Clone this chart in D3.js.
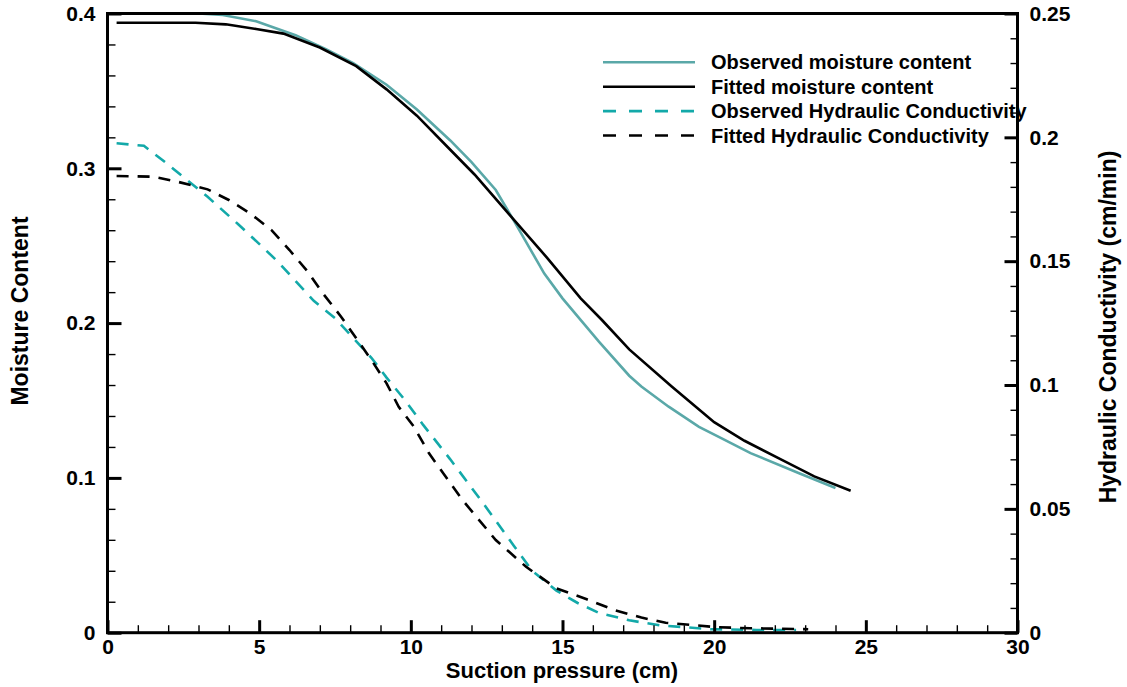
<!DOCTYPE html>
<html>
<head>
<meta charset="utf-8">
<script src="https://cdn.jsdelivr.net/npm/d3@7"></script>
<style>
    body { margin: 0; background: #fff; }
    svg text { font-family: "Liberation Sans", Arial, sans-serif; font-weight: bold; fill: #000; }
</style>
</head>
<body>
<svg id="chart" width="1127" height="687"></svg>
<script>
// Observed / fitted moisture content (left axis)
const obsMoistX = [0.3, 1, 2, 3, 3.8, 4.9, 6.2, 7.2, 8.1, 9.2, 10.2, 11.3, 12.0, 12.8, 13.4, 14.4, 15.0, 16.2, 17.2, 17.6, 18.5, 19.5, 20.2, 21.2, 22.8, 24.0];
const obsMoistY = [0.400, 0.400, 0.400, 0.400, 0.399, 0.395, 0.386, 0.377, 0.368, 0.354, 0.338, 0.318, 0.304, 0.286, 0.266, 0.232, 0.216, 0.188, 0.166, 0.159, 0.146, 0.133, 0.126, 0.116, 0.103, 0.0935];
const fitMoistX = [0.3, 1, 2, 2.9, 3.9, 4.9, 5.8, 7.0, 8.2, 9.2, 10.2, 11.3, 12.1, 13.3, 14.5, 15.6, 16.3, 17.2, 18.6, 20.0, 21.0, 22.2, 23.3, 24.5];
const fitMoistY = [0.394, 0.394, 0.394, 0.394, 0.393, 0.390, 0.387, 0.378, 0.366, 0.351, 0.334, 0.312, 0.296, 0.269, 0.242, 0.216, 0.202, 0.183, 0.159, 0.136, 0.124, 0.112, 0.101, 0.0917];

// Observed / fitted hydraulic conductivity (right axis)
const obsKX = [0.3, 1.2, 1.9, 2.6, 3.3, 4.3, 5.0, 5.6, 6.2, 6.8, 7.5, 8.1, 8.7, 9.2, 9.8, 10.4, 11.3, 12.4, 13.4, 14.0, 14.8, 15.5, 16.2, 17.2, 18.2, 19.9, 21.4, 22.7];
const obsKY = [0.1976, 0.1966, 0.190, 0.183, 0.176, 0.165, 0.157, 0.150, 0.142, 0.134, 0.127, 0.119, 0.111, 0.103, 0.094, 0.084, 0.070, 0.052, 0.035, 0.025, 0.017, 0.012, 0.008, 0.005, 0.003, 0.0014, 0.0011, 0.0011];
const fitKX = [0.3, 1.5, 2.3, 3.3, 4.0, 4.7, 5.4, 6.0, 6.6, 7.1, 7.7, 8.2, 8.7, 9.2, 9.6, 10.1, 10.6, 11.7, 12.8, 13.8, 14.8, 15.8, 16.7, 17.6, 18.4, 19.3, 20.1, 21.2, 23.1];
const fitKY = [0.1844, 0.1841, 0.1821, 0.179, 0.1747, 0.1693, 0.1626, 0.1545, 0.1458, 0.137, 0.1276, 0.1189, 0.1101, 0.1007, 0.0912, 0.0832, 0.0724, 0.0536, 0.0374, 0.0266, 0.0179, 0.0135, 0.0092, 0.0061, 0.004, 0.0031, 0.0022, 0.0018, 0.0014];

const xTicks = [0, 5, 10, 15, 20, 25, 30];
const leftTicks = [0, 0.1, 0.2, 0.3, 0.4];
const rightTicks = [0, 0.05, 0.1, 0.15, 0.2, 0.25];

const legendLabels = ["Observed moisture content", "Fitted moisture content", "Observed Hydraulic Conductivity", "Fitted Hydraulic Conductivity"];

const svg = d3.select("#chart");
const plotLeft = 107.5, plotRight = 1017.5, plotTop = 13.5, plotBottom = 632.7;

// Scales
const x = d3.scaleLinear().domain([0, 30]).range([plotLeft, plotRight]);
const yL = d3.scaleLinear().domain([0, 0.4]).range([plotBottom, plotTop]);
const yR = d3.scaleLinear().domain([0, 0.25]).range([plotBottom, plotTop]);

const teal = "#5aa8a8";
const tealDash = "#13a9a9";

// Curves
const series = [
    { xs: obsMoistX, ys: obsMoistY, y: yL, color: teal, dash: null },
    { xs: fitMoistX, ys: fitMoistY, y: yL, color: "#000", dash: null },
    { xs: obsKX, ys: obsKY, y: yR, color: tealDash, dash: "12,9" },
    { xs: fitKX, ys: fitKY, y: yR, color: "#000", dash: "12,9" }
];

series.forEach(s => {
    const pts = s.xs.map((v, i) => [v, s.ys[i]]);
    const line = d3.line().x(d => x(d[0])).y(d => s.y(d[1]));
    svg.append("path")
        .datum(pts)
        .attr("d", line)
        .attr("fill", "none")
        .attr("stroke", s.color)
        .attr("stroke-width", 2.6)
        .attr("stroke-dasharray", s.dash);
});

// Axes: ticks point inward
function styleAxis(g) {
    g.select(".domain").remove();
    g.selectAll("text").style("font-size", "21px");
}

// x minor + major
svg.append("g").attr("transform", `translate(0,${plotBottom})`)
    .call(d3.axisBottom(x).tickValues(d3.range(0, 31, 1)).tickSize(-7.5).tickFormat(""))
    .call(styleAxis)
    .selectAll("line").attr("stroke", "#000").attr("stroke-width", 1.4);
svg.append("g").attr("transform", `translate(0,${plotBottom})`)
    .call(d3.axisBottom(x).tickValues(xTicks).tickSize(-12.5).tickFormat(d3.format("d")))
    .call(styleAxis)
    .call(g => g.selectAll("line").attr("stroke", "#000").attr("stroke-width", 3))
    .call(g => g.selectAll("text").attr("y", 6).attr("dy", "0.72em"));

// left minor + major
svg.append("g").attr("transform", `translate(${plotLeft},0)`)
    .call(d3.axisLeft(yL).tickValues(d3.range(0, 0.401, 0.02)).tickSize(-8).tickFormat(""))
    .call(styleAxis)
    .selectAll("line").attr("stroke", "#000").attr("stroke-width", 1.4);
svg.append("g").attr("transform", `translate(${plotLeft},0)`)
    .call(d3.axisLeft(yL).tickValues(leftTicks).tickSize(-14).tickFormat(d => d === 0 ? "0" : d3.format(".1f")(d)))
    .call(styleAxis)
    .call(g => g.selectAll("line").attr("stroke", "#000").attr("stroke-width", 3))
    .call(g => g.selectAll("text").attr("x", -12));

// right minor + major
svg.append("g").attr("transform", `translate(${plotRight},0)`)
    .call(d3.axisRight(yR).tickValues(d3.range(0, 0.2501, 0.01)).tickSize(-7).tickFormat(""))
    .call(styleAxis)
    .selectAll("line").attr("stroke", "#000").attr("stroke-width", 1.4);
svg.append("g").attr("transform", `translate(${plotRight},0)`)
    .call(d3.axisRight(yR).tickValues(rightTicks).tickSize(-13).tickFormat(d => d === 0 ? "0" : String(+d.toFixed(2))))
    .call(styleAxis)
    .call(g => g.selectAll("line").attr("stroke", "#000").attr("stroke-width", 3))
    .call(g => g.selectAll("text").attr("x", 12));

// frame
svg.append("rect")
    .attr("x", plotLeft).attr("y", plotTop)
    .attr("width", plotRight - plotLeft).attr("height", plotBottom - plotTop)
    .attr("fill", "none").attr("stroke", "#000").attr("stroke-width", 3);

// axis titles
svg.append("text")
    .attr("x", 562).attr("y", 678)
    .attr("text-anchor", "middle").style("font-size", "22px")
    .text("Suction pressure (cm)");
svg.append("text")
    .attr("transform", "translate(28,311) rotate(-90)")
    .attr("text-anchor", "middle").style("font-size", "23px")
    .text("Moisture Content");
svg.append("text")
    .attr("transform", "translate(1116,327) rotate(-90)")
    .attr("text-anchor", "middle").style("font-size", "23px")
    .text("Hydraulic Conductivity (cm/min)");

// legend
const legend = svg.append("g");
legendLabels.forEach((label, i) => {
    const s = series[i];
    const ly = 62.3 + i * 24.4;
    legend.append("line")
        .attr("x1", 603).attr("x2", 695).attr("y1", ly).attr("y2", ly)
        .attr("stroke", s.color).attr("stroke-width", 2.6)
        .attr("stroke-dasharray", s.dash ? "13,13" : null);
    legend.append("text")
        .attr("x", 711).attr("y", ly).attr("dy", "0.35em")
        .style("font-size", "20px")
        .text(label);
});
</script>
</body>
</html>
